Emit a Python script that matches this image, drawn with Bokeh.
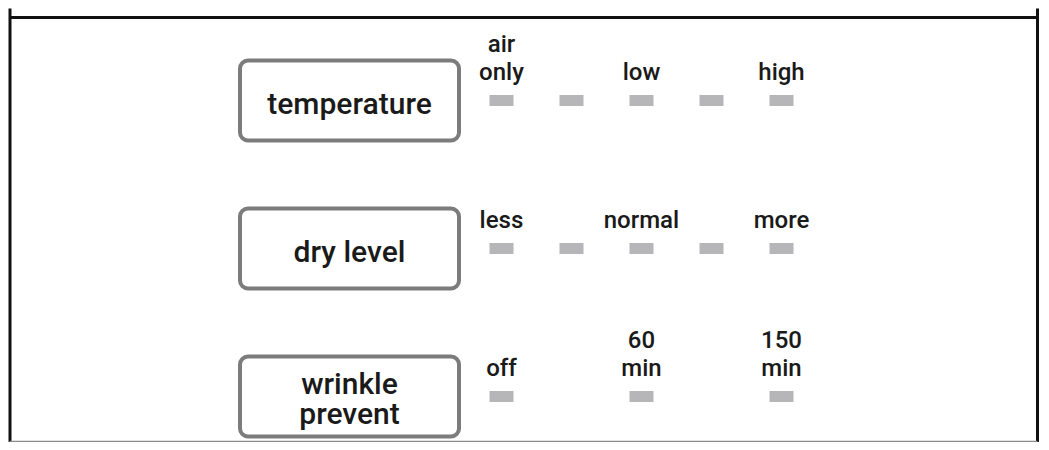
from bokeh.plotting import figure
from bokeh.models import Range1d
from bokeh.core.properties import value
from bokeh.embed import file_html
from bokeh.resources import INLINE

# ---- data ----
rows = ["temperature", "dry level", "wrinkle prevent"]
button_lines = [["temperature"], ["dry level"], ["wrinkle", "prevent"]]
indicator_slots = [[0, 1, 2, 3, 4], [0, 1, 2, 3, 4], [0, 2, 4]]
option_slots = [[0, 2, 4], [0, 2, 4], [0, 2, 4]]
option_labels = [
    [["air", "only"], ["low"], ["high"]],
    [["less"], ["normal"], ["more"]],
    [["off"], ["60", "min"], ["150", "min"]],
]

# ---- layout (pixel-like units) ----
W, H = 1041, 442
X0, Y0 = 0, 0
ROW_Y0, ROW_STEP = 100, 148
SLOT_X0, SLOT_STEP = 501, 70
BOX_CX, BOX_W, BOX_H = 349, 219, 80
IND_W, IND_H = 24, 11
TXT_SHIFT = -7
LBL_OFF = 22
LBL_LH = 28
BTN_LH = 30
FONT = "Roboto Medium, Roboto"

p = figure(width=W, height=H, x_range=Range1d(X0, X0 + W), y_range=Range1d(Y0 + H, Y0),
           output_backend="svg", toolbar_location=None, min_border=0)
p.axis.visible = False
p.grid.visible = False
p.outline_line_color = None
p.background_fill_color = "white"
p.border_fill_color = "white"

# frame
RIGHT = X0 + W - 4
p.segment(x0=[9], y0=[17], x1=[RIGHT], y1=[17], line_color="#111111", line_width=3)
p.segment(x0=[9.5], y0=[8], x1=[9.5], y1=[Y0 + H], line_color="#111111", line_width=3)
p.segment(x0=[RIGHT], y0=[8], x1=[RIGHT], y1=[Y0 + H], line_color="#111111", line_width=3)
p.segment(x0=[9], y0=[Y0 + H - 1], x1=[RIGHT], y1=[Y0 + H - 1], line_color="#8a8a8a", line_width=1.5)

# buttons
by = [ROW_Y0 + i * ROW_STEP for i in range(len(rows))]
p.quad(left=[BOX_CX - BOX_W / 2] * len(rows), right=[BOX_CX + BOX_W / 2] * len(rows),
       top=[y - BOX_H / 2 for y in by], bottom=[y + BOX_H / 2 for y in by],
       fill_color="white", line_color="#7c7c7c", line_width=4, border_radius=8)

tx, ty, tt = [], [], []
for i, lines in enumerate(button_lines):
    n = len(lines)
    for k, t in enumerate(lines):
        tx.append(BOX_CX)
        ty.append(by[i] + 10 + TXT_SHIFT - (n - 1) * 16 + k * BTN_LH)
        tt.append(t)
p.text(x=tx, y=ty, text=tt, text_font=value(FONT), text_font_size="30px",
       text_align="center", text_baseline="alphabetic", text_color="#1a1a1a")

# indicators
ix, iy = [], []
for i, slots in enumerate(indicator_slots):
    for s in slots:
        ix.append(SLOT_X0 + s * SLOT_STEP)
        iy.append(by[i])
p.rect(x=ix, y=iy, width=IND_W, height=IND_H, fill_color="#b6b6b9", line_color=None)

# option labels
lx, ly, lt = [], [], []
for i, (slots, labs) in enumerate(zip(option_slots, option_labels)):
    for s, lines in zip(slots, labs):
        n = len(lines)
        for k, t in enumerate(lines):
            lx.append(SLOT_X0 + s * SLOT_STEP)
            ly.append(by[i] - LBL_OFF + TXT_SHIFT - (n - 1 - k) * LBL_LH)
            lt.append(t)
p.text(x=lx, y=ly, text=lt, text_font=value(FONT), text_font_size="24px",
       text_align="center", text_baseline="alphabetic", text_color="#1a1a1a")

open("out.html", "w").write(file_html(p, INLINE))
